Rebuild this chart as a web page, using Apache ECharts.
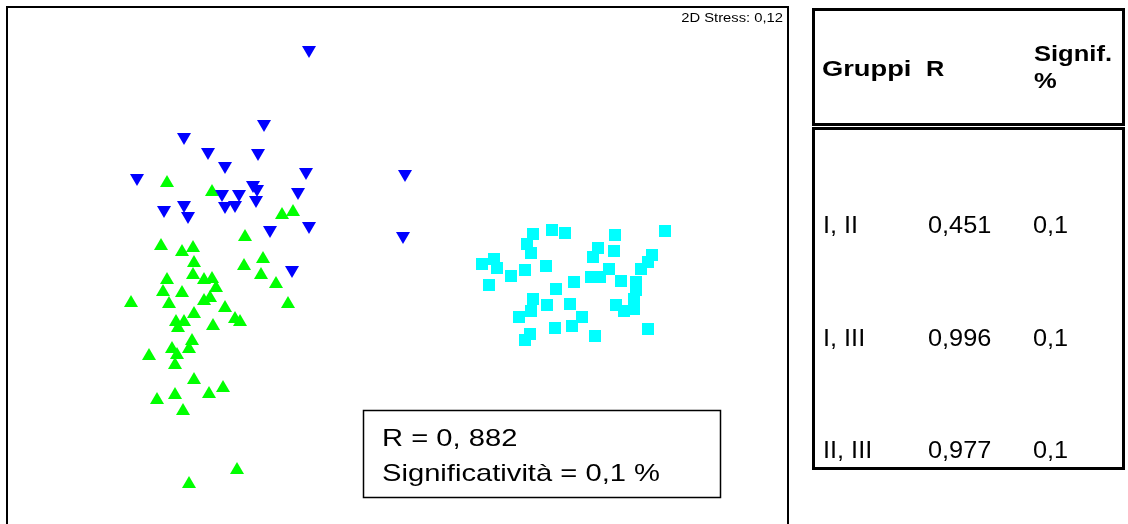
<!DOCTYPE html>
<html>
<head>
<meta charset="utf-8">
<script src="https://cdn.jsdelivr.net/npm/echarts@6/dist/echarts.min.js"></script>
<style>
  html, body { margin: 0; padding: 0; background: #fff; }
  #chart { width: 1128px; height: 524px; }
</style>
</head>
<body>
<div id="chart"></div>
<script>
// nMDS ordination scores (plot units, axis 2 grows downward)
const groupI = [
  [167,181],[212,190],[282,213],[293,210],[245,235],[161,244],[182,250],[193,246],
  [263,257],[194,261],[244,264],[167,278],[193,273],[204,278],[212,277],[261,273],
  [276,282],[216,286],[163,290],[182,291],[131,301],[169,302],[204,299],[210,296],
  [288,302],[225,306],[194,312],[176,320],[184,320],[213,324],[235,317],[240,320],
  [178,326],[192,339],[189,347],[172,347],[177,353],[149,354],[175,363],[194,378],
  [223,386],[209,392],[175,393],[157,398],[183,409],[237,468],[189,482]
];
const groupII = [
  [309,52],[264,126],[184,139],[208,154],[258,155],[225,168],[137,180],[306,174],
  [405,176],[253,187],[257,191],[222,196],[239,196],[298,194],[256,202],[225,208],
  [235,207],[164,212],[184,207],[188,218],[270,232],[309,228],[403,238],[292,272]
];
const groupIII = [
  [533,234],[552,230],[565,233],[615,235],[665,231],[527,244],[531,253],[598,248],
  [593,257],[614,251],[652,255],[648,262],[641,269],[482,264],[494,259],[497,268],
  [511,276],[525,270],[546,266],[609,269],[591,277],[600,277],[621,281],[574,282],
  [489,285],[636,282],[636,290],[556,289],[533,299],[634,299],[547,305],[570,304],
  [616,305],[624,311],[634,309],[531,311],[519,317],[582,317],[572,326],[555,328],
  [530,334],[525,340],[595,336],[648,329]
];

// ANOSIM results
const globalR = '0, 882';
const globalSignif = '0,1 %';
const stress = '0,12';
const pairNames = ['I, II', 'I, III', 'II, III'];
const pairR = ['0,451', '0,996', '0,977'];
const pairSignif = ['0,1', '0,1', '0,1'];

const FONT = '"Liberation Sans", Arial, sans-serif';
const chart = echarts.init(document.getElementById('chart'), null, { renderer: 'canvas' });

// text element with a horizontal stretch, anchored at (x, y)
function label(text, x, y, font, sx, align) {
  return {
    type: 'text', x: x, y: y, scaleX: sx, scaleY: 1,
    style: { text: text, x: 0, y: 0, fill: '#000', font: font, verticalAlign: 'middle', align: align || 'left' }
  };
}

const rowY = [227, 340, 452];
const bodyFont = '23px ' + FONT;
const tableTexts = [];
pairNames.forEach((n, i) => {
  tableTexts.push(label(n, 823, rowY[i], bodyFont, 1.1));
  tableTexts.push(label(pairR[i], 928, rowY[i], bodyFont, 1.1));
  tableTexts.push(label(pairSignif[i], 1033, rowY[i], bodyFont, 1.1));
});

const headFont = 'bold 22px ' + FONT;

chart.setOption({
  animation: false,
  backgroundColor: '#fff',
  grid: {
    left: 7, top: 7, width: 781, height: 530,
    outerBoundsMode: 'none', containLabel: false,
    show: true, borderColor: '#000', borderWidth: 2, backgroundColor: 'transparent'
  },
  xAxis: { type: 'value', min: 7, max: 788, show: false },
  yAxis: { type: 'value', min: 7, max: 537, inverse: true, show: false },
  series: [
    { name: 'I', type: 'scatter', data: groupI, symbol: 'triangle', symbolSize: [14, 12],
      itemStyle: { color: '#00ff00', opacity: 1 } },
    { name: 'II', type: 'scatter', data: groupII, symbol: 'triangle', symbolRotate: 180, symbolSize: [14, 12],
      itemStyle: { color: '#0000ff', opacity: 1 } },
    { name: 'III', type: 'scatter', data: groupIII, symbol: 'rect', symbolSize: 12,
      itemStyle: { color: '#00ffff', opacity: 1 } }
  ],
  graphic: [
    label('2D Stress: ' + stress, 783, 19, '12px ' + FONT, 1.23, 'right'),
    // ANOSIM global result box
    { type: 'rect', shape: { x: 363.5, y: 410.5, width: 357, height: 87 }, style: { fill: '#fff', stroke: '#000', lineWidth: 1.5 } },
    label('R = ' + globalR, 382, 439, '24px ' + FONT, 1.215),
    label('Significatività = ' + globalSignif, 382, 474, '24px ' + FONT, 1.215),
    // pairwise table
    { type: 'rect', shape: { x: 813.5, y: 9.5, width: 310, height: 115 }, style: { fill: '#fff', stroke: '#000', lineWidth: 3 } },
    { type: 'rect', shape: { x: 813.5, y: 128.5, width: 310, height: 340 }, style: { fill: '#fff', stroke: '#000', lineWidth: 3 } },
    label('Gruppi', 822, 70, headFont, 1.24),
    label('R', 926, 70, headFont, 1.15),
    label('Signif.', 1034, 55, headFont, 1.16),
    label('%', 1034, 82, headFont, 1.16)
  ].concat(tableTexts)
});
</script>
</body>
</html>
